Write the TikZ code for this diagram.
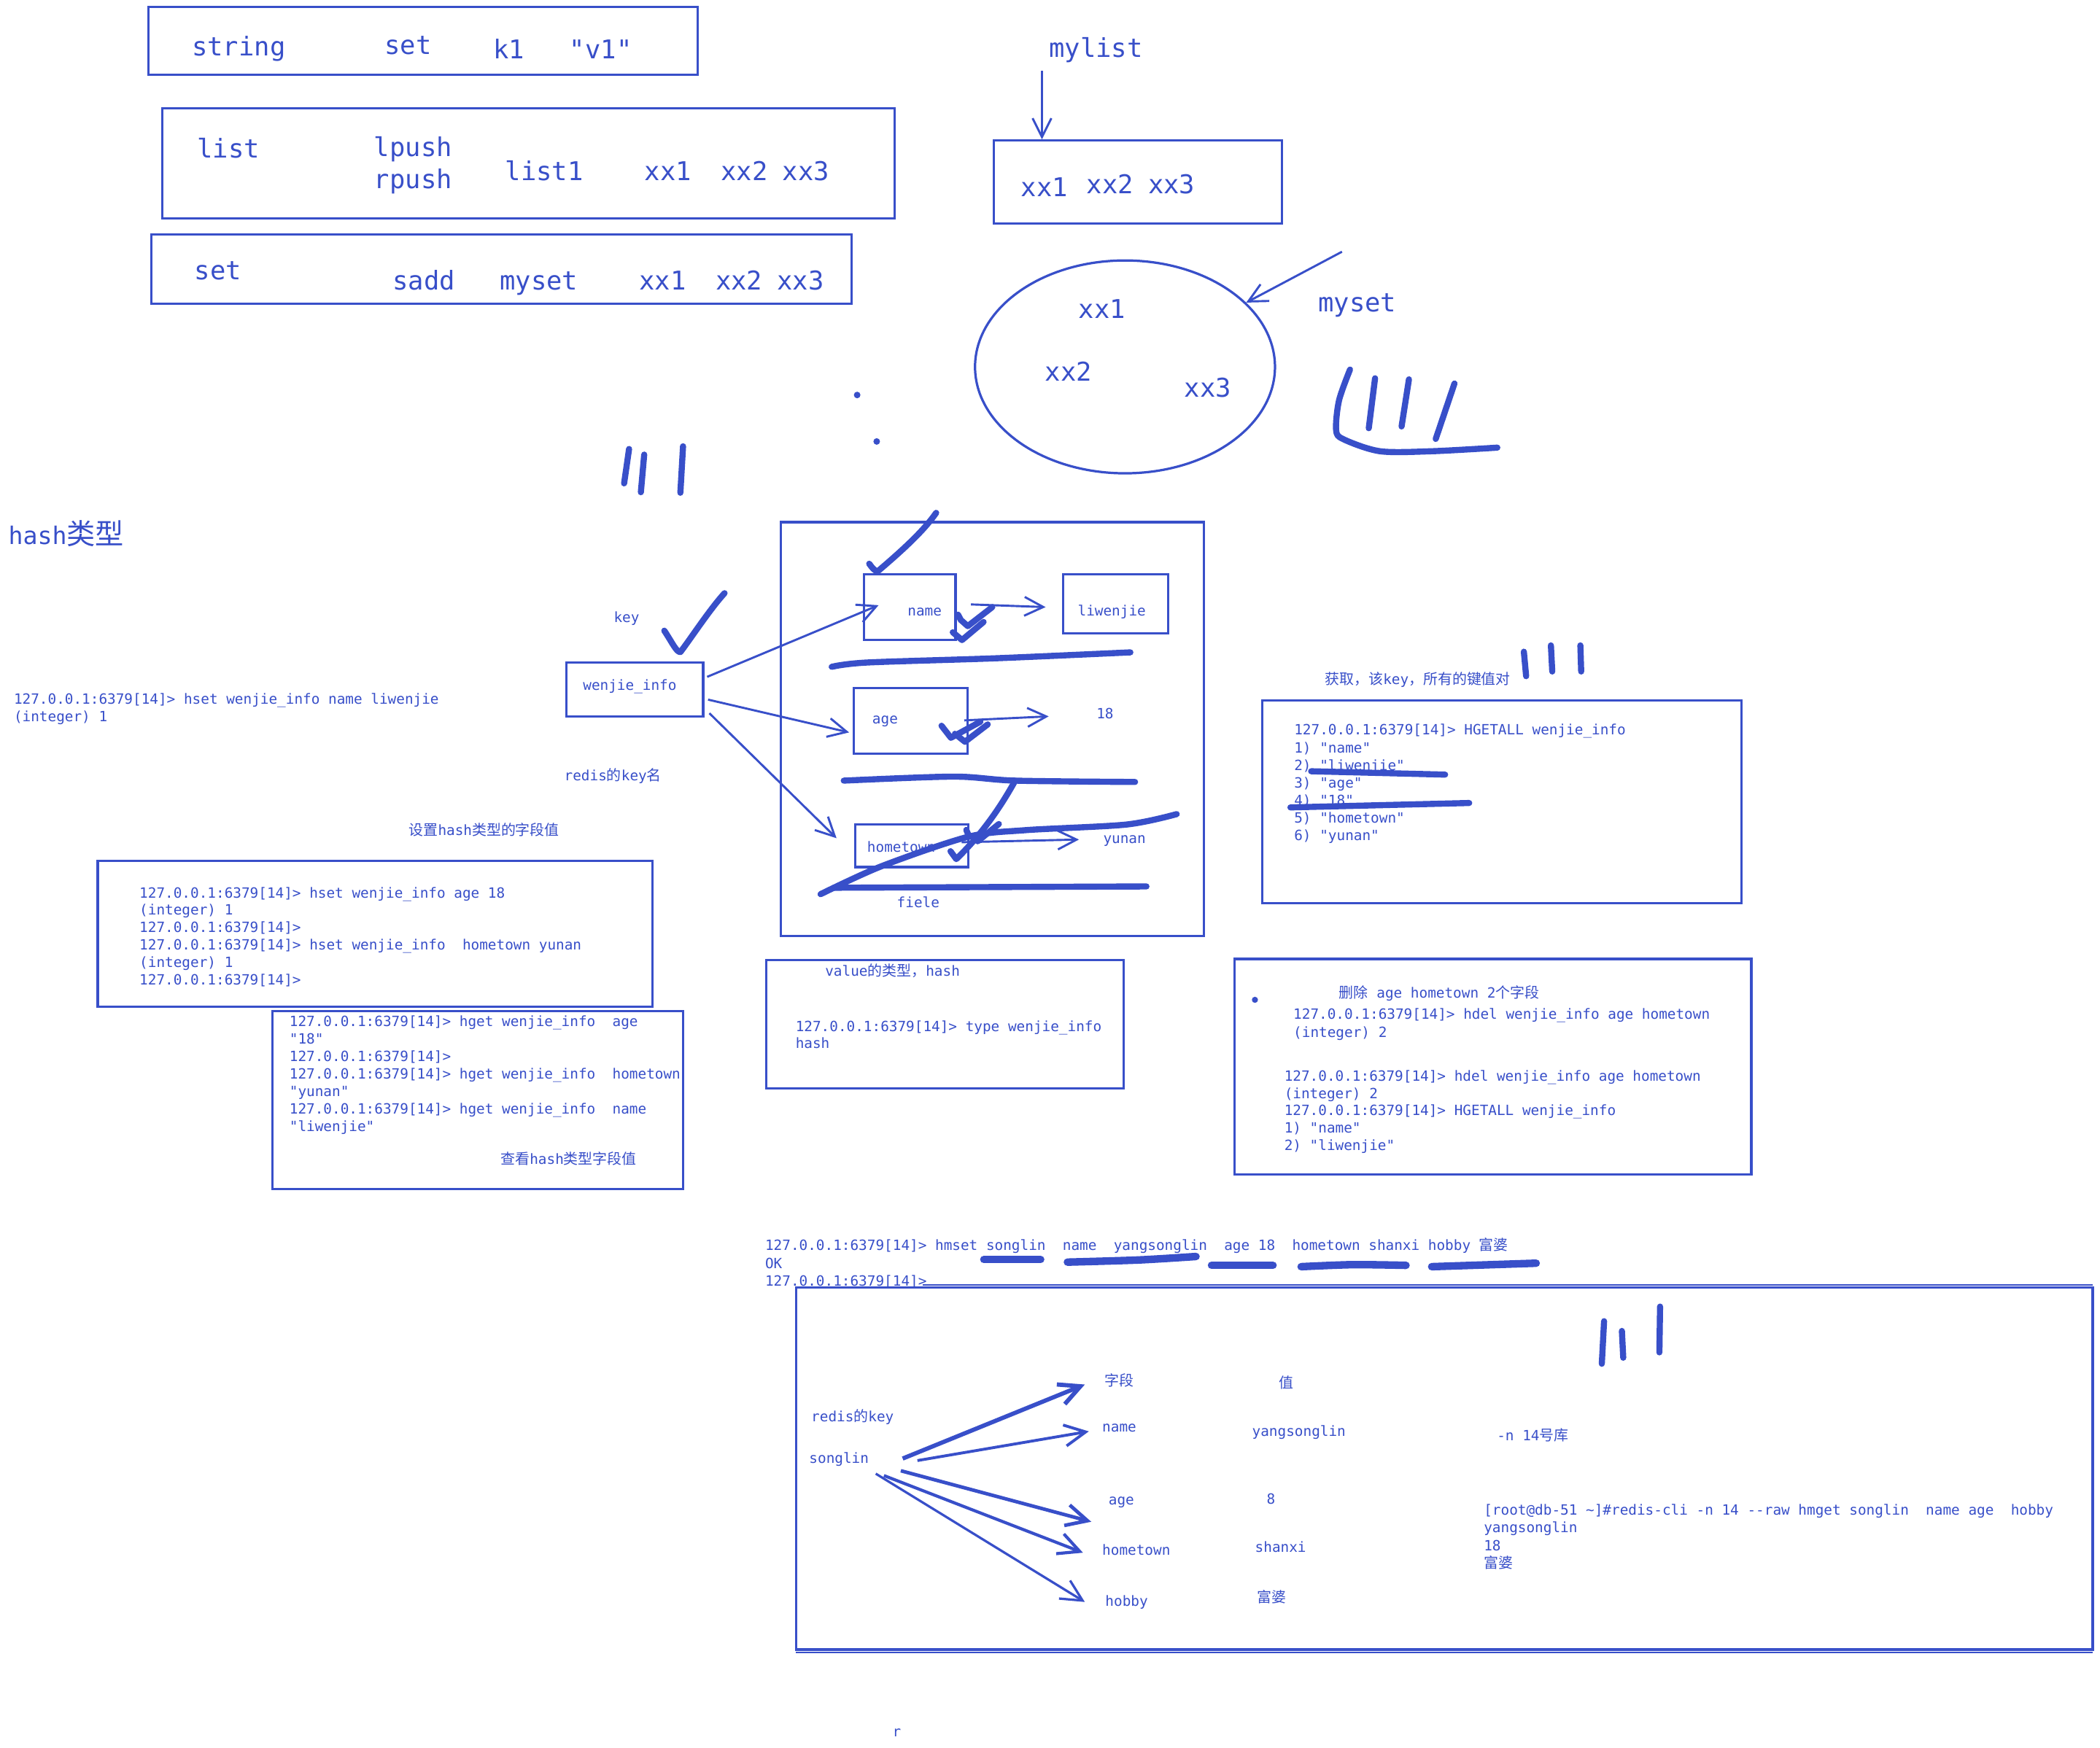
\documentclass[tikz,border=0pt]{standalone}
\usepackage{fontspec}
\setmonofont{DejaVu Sans Mono}
\newfontfamily\cjkfont{Noto Sans CJK SC}[Scale=1.03]
\usetikzlibrary{arrows.meta,fit,shapes.geometric}
\definecolor{ink}{RGB}{56,79,201}
\newcommand\zh[1]{{\cjkfont #1}}
\newcommand\smtxt{\ttfamily\fontsize{6pt}{7.4pt}\selectfont}
\newcommand\bgtxt{\ttfamily\fontsize{11pt}{13pt}\selectfont}
\newcommand\hdtxt{\ttfamily\fontsize{10.3pt}{12pt}\selectfont}
\tikzset{
  box/.style={draw=ink, line width=1pt, inner sep=0pt},
  sm/.style={anchor=west, inner sep=0pt, text=ink, font=\smtxt, text height=4.5pt, text depth=1.2pt, yshift=-0.5pt},
  bg/.style={anchor=west, inner sep=0pt, text=ink, font=\bgtxt, text height=8.2pt, text depth=2.2pt, yshift=-1.4pt},
  hd/.style={anchor=west, inner sep=0pt, text=ink, font=\hdtxt, text height=7.5pt, text depth=2pt, yshift=-1pt},
  pen/.style={draw=ink, line width=2.6pt, line cap=round, line join=round},
  fatpen/.style={draw=ink, line width=3.2pt, line cap=round, line join=round},
  conn/.style={draw=ink, line width=0.9pt, -{Straight Barb[length=8pt,width=8pt]}},
  bigconn/.style={draw=ink, line width=1.4pt, -{Straight Barb[length=9pt,width=9pt]}},
}
\begin{document}
\begin{tikzpicture}[x=0.02cm,y=-0.02cm]
\useasboundingbox (0,0) rectangle (1568,1305);
\fill[white] (0,0) rectangle (1568,1305);

% ---------------- top: string / list / set ----------------
\node[box, fit={(111,5) (521,56)}] (strbox) {};
\node[bg] (tstring) at (143,34) {string};
\node[bg] (tsset) at (287,33) {set};
\node[bg] (tk1) at (368,36) {k1};
\node[bg] (tv1) at (425,36) {"v1"};

\node[box, fit={(121,81) (668,163)}] (listbox) {};
\node[bg] (tlist) at (147,110) {list};
\node[bg] (tlpush) at (279,109) {lpush};
\node[bg] (trpush) at (279,133) {rpush};
\node[bg] (tlist1) at (377,127) {list1};
\node[bg] (tl1) at (481,127) {xx1};
\node[bg] (tl2) at (538,127) {xx2};
\node[bg] (tl3) at (584,127) {xx3};

\node[box, fit={(113,175) (636,227)}] (setbox) {};
\node[bg] (tset) at (145,201) {set};
\node[bg] (tsadd) at (293,209) {sadd};
\node[bg] (tmyset1) at (373,209) {myset};
\node[bg] (ts1) at (477,209) {xx1};
\node[bg] (ts2) at (534,209) {xx2};
\node[bg] (ts3) at (580,209) {xx3};

% mylist
\node[bg] (tmylist) at (783,35) {mylist};
\node[box, fit={(742,105) (957,167)}] (mylistbox) {};
\coordinate (mlA) at (778,53);
\draw[conn] (mlA) -- (mlA |- mylistbox.north);
\node[bg] (m1) at (762,139) {xx1};
\node[bg] (m2) at (811,137) {xx2};
\node[bg] (m3) at (857,137) {xx3};

% myset ellipse
\node[draw=ink, line width=1pt, ellipse, inner sep=0pt, minimum width=4.48cm, minimum height=3.18cm] (setell) at (840,274) {};
\node[bg] (e1) at (805,230) {xx1};
\node[bg] (e2) at (780,277) {xx2};
\node[bg] (e3) at (884,289) {xx3};
\node[bg] (tmyset) at (984,225) {myset};
\coordinate (msA) at (1002,188);
\draw[conn] (msA) -- (setell);

% scribbles top right
\draw[pen] plot[smooth] coordinates {(1008,276) (999.8,299) (997.6,321) (1003,328) (1030.4,337) (1069,337) (1118,334.3)};
\draw[pen] (1026.7,282.5) -- (1022,319.8);
\draw[pen] (1052,283.3) -- (1046.5,318.5);
\draw[pen] (1086,286.4) -- (1072,327.8);

% dots and strokes middle
\fill[ink] (640,295) circle[radius=1.4pt];
\fill[ink] (654.6,329.7) circle[radius=1.4pt];
\draw[pen] (469.7,335.3) -- (466,361);
\draw[pen] (481,339.5) -- (478.5,367.6);
\draw[pen] (510,333.3) -- (508,368);

% ---------------- hash section ----------------
\node[hd] (thash) at (6,400) {hash{\cjkfont\fontsize{11.8pt}{12pt}\selectfont 类型}};
\node[sm] (hs0) at (10,522) {127.0.0.1:6379[14]> hset wenjie\_info name liwenjie};
\node[sm] (hs1) at (10,535) {(integer) 1};

\node[sm] (tkey) at (458,461) {key};
\draw[pen] (496,471) .. controls (502,480) and (505,487) .. (508,487) .. controls (515,478) and (530,455) .. (541,443);

\node[box, fit={(423,495) (525,535)}] (wibox) {};
\node[sm] (twi) at (435,511.6) {wenjie\_info};
\node[sm] (trk) at (421,579.5) {redis\zh{的}key\zh{名}};
\node[sm] (tset2) at (305,620) {\zh{设置}hash\zh{类型的字段值}};

\node[box, fit={(583,390) (899,699)}] (hashbox) {};
\node[box, fit={(645,429) (713.5,477.7)}] (namebox) {};
\node[sm] (tname) at (677.4,456) {name};
\node[box, fit={(794,428.7) (872.4,473)}] (lwbox) {};
\node[sm] (tlw) at (804.4,456) {liwenjie};
\node[box, fit={(637.6,514) (722.6,563)}] (agebox) {};
\node[sm] (tage) at (651,537) {age};
\node[sm] (t18) at (818.4,533) {18};
\node[box, fit={(638.6,615.5) (723,647.6)}] (htbox) {};
\node[sm] (tht) at (647.2,632.4) {hometown};
\node[sm] (tyn) at (823.4,626.3) {yunan};
\node[sm] (tfiele) at (669.4,673.8) {fiele};

\coordinate (wiA) at (528,505.5);
\coordinate (wiB) at (528.7,522.5);
\coordinate (wiC) at (529.7,532.7);
\coordinate (nmIn) at (656,452);
\coordinate (agIn) at (634,547);
\coordinate (htIn) at (624.6,626);
\draw[conn] (wiA) -- (nmIn);
\draw[conn] (wiB) -- (agIn);
\draw[conn] (wiC) -- (htIn);

\coordinate (nmOut) at (725,451.4);
\coordinate (lwIn) at (780.7,453.4);
\draw[conn] (nmOut) -- (lwIn);
\coordinate (agOut) at (720,538);
\coordinate (v18In) at (783,535);
\draw[conn] (agOut) -- (v18In);
\coordinate (htOut) at (718,629);
\coordinate (ynIn) at (805.6,627);
\draw[conn] (htOut) -- (ynIn);

% thick marks inside hash box
\draw[pen] (649,421) .. controls (652,425) .. (655,427) .. controls (675,410) and (690,396) .. (699,383);
\draw[pen] (715.3,459) -- (717.4,463) -- (722.6,467.6) -- (740.9,453.4);
\draw[pen] (711.4,472.2) -- (718.3,478) -- (734.4,464.5);
\draw[pen] (703,542) -- (710,551) -- (732,539);
\draw[pen] (713,548) -- (720.5,554) -- (737.5,541);
\draw[pen] (758,583) .. controls (742,612) and (726,630) .. (714,641.6) -- (709.7,635.7);
\draw[pen] (721.5,619.8) -- (723.7,625);
\draw[pen] (745.8,615.4) -- (730,628.3);
\draw[pen] plot[smooth] coordinates {(621,498) (647.3,494.8) (744.1,491.6) (844,487.2)};
\draw[pen] plot[smooth] coordinates {(630,583) (712,580) (758,583) (847.5,584)};
\draw[pen] plot[smooth] coordinates {(612.7,667.8) (658,647) (722.6,625) (765.6,620) (841,615.8) (878.6,608)};
\draw[pen] (622.5,663) -- (856,662);

% HGETALL
\node[sm] (tget) at (989,507.6) {\zh{获取，该}key\zh{，所有的键值对}};
\draw[pen] (1137.8,486.7) -- (1139.5,505);
\draw[pen] (1158,482) -- (1159,501.5);
\draw[pen] (1180,482) -- (1180.6,501.5);
\node[box, fit={(942.5,523.3) (1300.4,674.5)}] (hgabox) {};
\foreach \s [count=\i from 0] in {{127.0.0.1:6379[14]> HGETALL wenjie\_info},{1) "name"},{2) "liwenjie"},{3) "age"},{4) "18"},{5) "hometown"},{6) "yunan"}}
  \node[sm] (hga\i) at (966,545.2+13.1*\i) {\s};
\draw[pen] (979,576) -- (1079,578.5);
\draw[pen] (963.5,603) -- (1097,599.7);

% hset box
\node[box, fit={(73,643) (487,752)}] (hsetbox) {};
\foreach \s [count=\i from 0] in {{127.0.0.1:6379[14]> hset wenjie\_info age 18},{(integer) 1},{127.0.0.1:6379[14]>},{127.0.0.1:6379[14]> hset wenjie\_info\ \ hometown yunan},{(integer) 1},{127.0.0.1:6379[14]>}}
  \node[sm] (hsl\i) at (103.8,666.7+13*\i) {\s};

% hget box
\node[box, fit={(203.3,755) (510,887.8)}] (hgetbox) {};
\foreach \s [count=\i from 0] in {{127.0.0.1:6379[14]> hget wenjie\_info\ \ age},{"18"},{127.0.0.1:6379[14]>},{127.0.0.1:6379[14]> hget wenjie\_info\ \ hometown},{"yunan"},{127.0.0.1:6379[14]> hget wenjie\_info\ \ name},{"liwenjie"}}
  \node[sm] (hgl\i) at (215.8,762.9+13.07*\i) {\s};
\node[sm] (tlook) at (373.5,865.5) {\zh{查看}hash\zh{类型字段值}};

% type box
\node[box, fit={(572.2,717.2) (838.8,812.8)}] (typebox) {};
\node[sm] (tval) at (615.8,725.3) {value\zh{的类型，}hash};
\node[sm] (ttype) at (593.7,766.5) {127.0.0.1:6379[14]> type wenjie\_info};
\node[sm] (thashv) at (593.7,779.2) {hash};

% hdel box
\node[box, fit={(921.7,716.2) (1307.7,877.3)}] (hdelbox) {};
\fill[ink] (937,746.7) circle[radius=1.3pt];
\node[sm] (tdel) at (999.5,741.7) {\zh{删除} age hometown 2\zh{个字段}};
\node[sm] (hd0) at (965.4,757.6) {127.0.0.1:6379[14]> hdel wenjie\_info age hometown};
\node[sm] (hd1) at (965.4,770.7) {(integer) 2};
\foreach \s [count=\i from 0] in {{127.0.0.1:6379[14]> hdel wenjie\_info age hometown},{(integer) 2},{127.0.0.1:6379[14]> HGETALL wenjie\_info},{1) "name"},{2) "liwenjie"}}
  \node[sm] (hdl\i) at (958.6,803.4+13.03*\i) {\s};

% ---------------- bottom: hmset ----------------
\node[sm] (hm0) at (571,930) {127.0.0.1:6379[14]> hmset songlin\ \ name\ \ yangsonglin\ \ age 18\ \ hometown shanxi hobby \zh{富婆}};
\node[sm] (hm1) at (571,943.4) {OK};
\node[sm] (hm2) at (571,956.7) {127.0.0.1:6379[14]>};
\draw[fatpen] (734.6,940.7) -- (777,940.7);
\draw[fatpen] plot[smooth] coordinates {(797,942.6) (850,941) (893,938.4)};
\draw[fatpen] (904.6,945) -- (950.5,945);
\draw[fatpen] plot[smooth] coordinates {(971.5,946) (1010,944.5) (1049.8,945)};
\draw[fatpen] (1069,946) -- (1147,943.4);

\node[box, fit={(594.3,961.7) (1562.5,1232)}] (bigbox) {};
\draw[ink, line width=0.7pt] (688.7,959.5) -- (1562.5,959.5);
\draw[ink, line width=0.7pt] (594.3,1234) -- (1562.5,1234);

\node[sm] (tfield) at (824.3,1031.2) {\zh{字段}};
\node[sm] (tvalue) at (954.7,1033) {\zh{值}};
\node[sm] (trkey) at (605.4,1058) {redis\zh{的}key};
\node[sm] (tsong) at (603.9,1089) {songlin};
\node[sm] (fname) at (822.7,1065.7) {name};
\node[sm] (vname) at (934.6,1069) {yangsonglin};
\node[sm] (fage) at (827.4,1119.8) {age};
\node[sm] (vage) at (945.5,1119.3) {8};
\node[sm] (fht) at (822.7,1157.4) {hometown};
\node[sm] (vht) at (936.8,1155.6) {shanxi};
\node[sm] (fhob) at (825,1196) {hobby};
\node[sm] (vhob) at (938.5,1193.2) {\zh{富婆}};

\coordinate (sA) at (674,1089.3);
\coordinate (sB) at (685,1090.8);
\coordinate (sC) at (672.6,1098.4);
\coordinate (sD) at (660,1102);
\coordinate (sE) at (653.9,1100.6);
\coordinate (eA) at (810,1034);
\coordinate (eB) at (813,1069);
\coordinate (eC) at (814.8,1136.5);
\coordinate (eD) at (808.6,1159.6);
\coordinate (eE) at (810,1196.4);
\draw[bigconn, line width=1.8pt] (sA) -- (eA);
\draw[bigconn, line width=1.2pt] (sB) -- (eB);
\draw[bigconn, line width=1.5pt] (sC) -- (eC);
\draw[bigconn, line width=1.3pt] (sD) -- (eD);
\draw[bigconn, line width=1pt] (sE) -- (eE);

\draw[pen] (1197.7,986.7) -- (1196,1018.5);
\draw[pen] (1211,994) -- (1212,1014);
\draw[pen] (1239.5,975.8) -- (1239,1010);

\node[sm] (tdb) at (1117.4,1072) {-n 14\zh{号库}};
\node[sm] (cli0) at (1107.6,1127.8) {[root@db-51 \textasciitilde]\#redis-cli -n 14 --raw hmget songlin\ \ name age\ \ hobby};
\node[sm] (cli1) at (1107.6,1141) {yangsonglin};
\node[sm] (cli2) at (1107.6,1154.3) {18};
\node[sm] (cli3) at (1107.6,1167.4) {\zh{富婆}};

\node[sm] (tr) at (666,1293) {r};
\end{tikzpicture}
\end{document}
